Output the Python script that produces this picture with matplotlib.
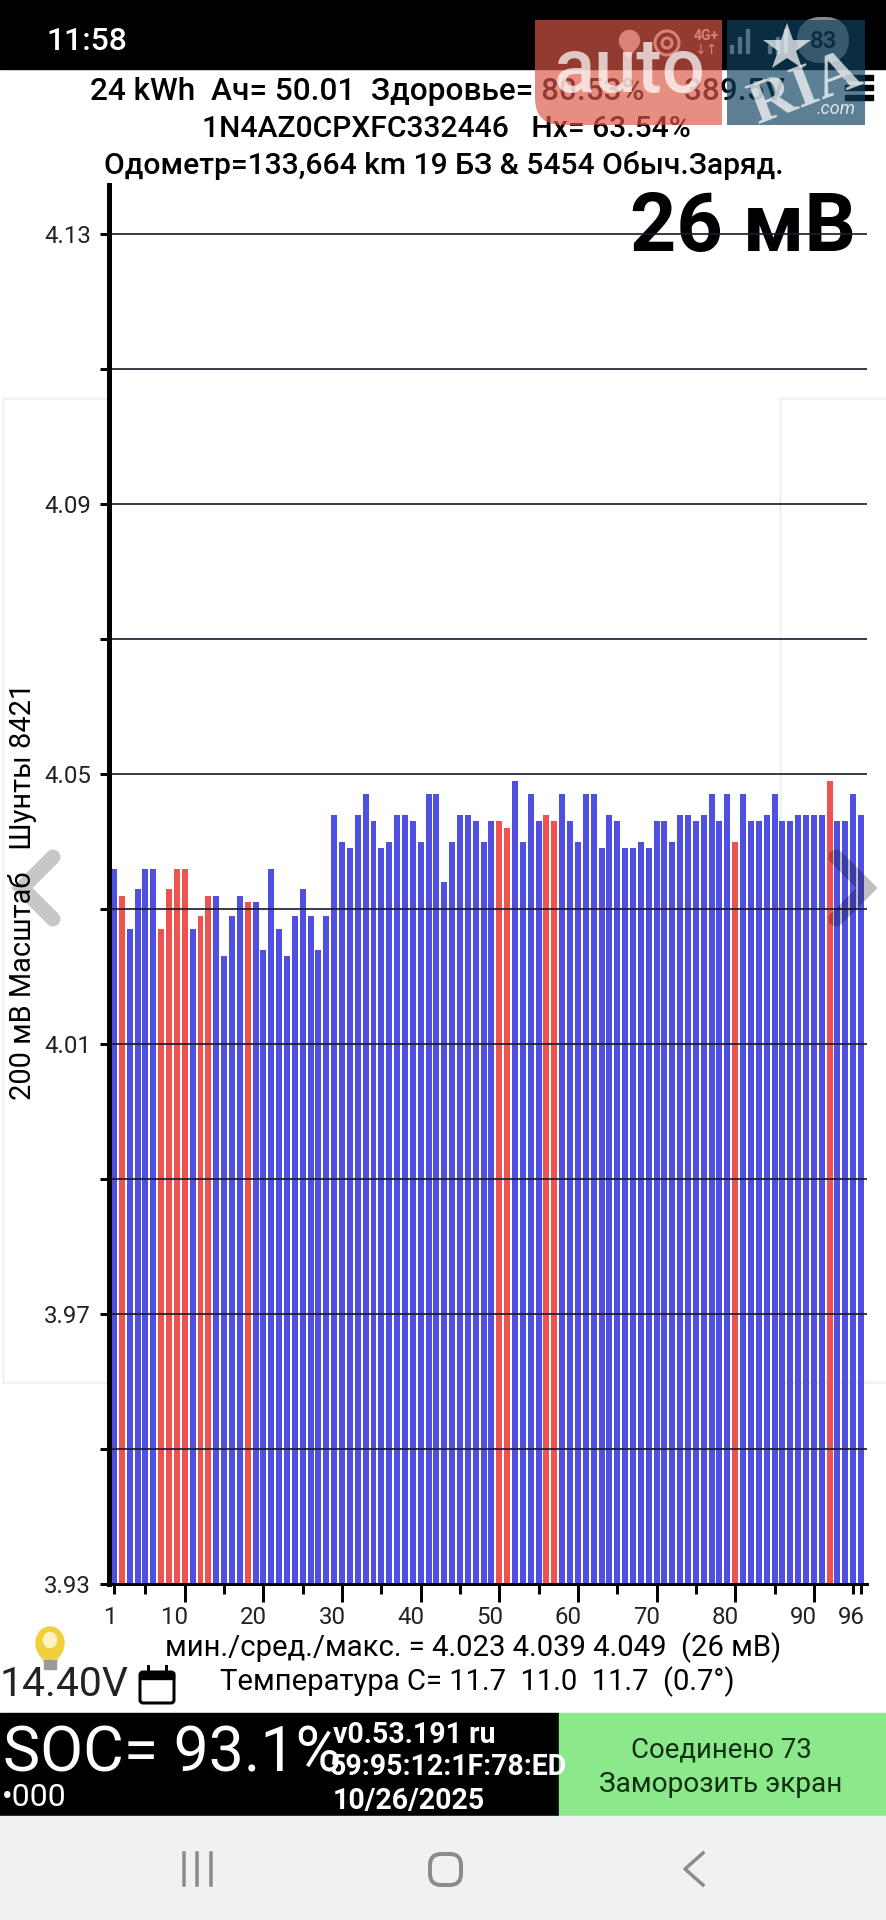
import matplotlib
matplotlib.use("Agg")
import matplotlib.pyplot as plt
from matplotlib.patches import Rectangle, FancyBboxPatch, Circle, Ellipse, Polygon
from matplotlib.path import Path
from matplotlib.patches import PathPatch

plt.rcParams["font.family"] = ["Roboto", "DejaVu Sans"]

# Cell voltages (cell 1 to 96)
CELL_VOLTS = [
    4.036, 4.032, 4.027, 4.033, 4.036, 4.036, 4.027, 4.033, 4.036, 4.036,
    4.027, 4.029, 4.032, 4.032, 4.023, 4.029, 4.032, 4.031, 4.031, 4.024,
    4.036, 4.027, 4.023, 4.029, 4.033, 4.029, 4.024, 4.029, 4.044, 4.040,
    4.039, 4.044, 4.047, 4.043, 4.039, 4.040, 4.044, 4.044, 4.043, 4.040,
    4.047, 4.047, 4.034, 4.040, 4.044, 4.044, 4.043, 4.040, 4.043, 4.043,
    4.042, 4.049, 4.040, 4.047, 4.043, 4.044, 4.043, 4.047, 4.043, 4.040,
    4.047, 4.047, 4.039, 4.044, 4.043, 4.039, 4.039, 4.040, 4.039, 4.043,
    4.043, 4.040, 4.044, 4.044, 4.043, 4.044, 4.047, 4.043, 4.047, 4.040,
    4.047, 4.043, 4.043, 4.044, 4.047, 4.043, 4.043, 4.044, 4.044, 4.044,
    4.044, 4.049, 4.043, 4.043, 4.047, 4.044,
]
SHUNT_CELLS = [2, 7, 8, 9, 10, 12, 13, 18, 50, 51, 56, 57, 80, 92]

GRID_LEVELS = [4.13, 4.11, 4.09, 4.07, 4.05, 4.03, 4.01, 3.99, 3.97, 3.95, 3.93]
Y_LABELS = [4.13, 4.09, 4.05, 4.01, 3.97, 3.93]
X_LONG_TICKS = [10, 20, 30, 40, 50, 60, 70, 80, 90]
X_SHORT_TICKS = [1, 5, 15, 25, 35, 45, 55, 65, 75, 85, 95, 96]
X_LABELS = [1, 10, 20, 30, 40, 50, 60, 70, 80, 90, 96]

W, H = 886, 1920
BLUE = "#4f50e2"
RED = "#ef5350"


def px(size):
    # font size / line width given in image pixels
    return size * 0.72


fig = plt.figure(figsize=(W / 100, H / 100), dpi=100, facecolor="white")


def layer(z):
    a = fig.add_axes([0, 0, 1, 1], zorder=z)
    a.set_xlim(0, W)
    a.set_ylim(H, 0)
    a.axis("off")
    return a


bg = layer(0)
top = layer(2)


def label(ax, x, y, s, size, color="black", weight="normal", ha="center", **kw):
    return ax.text(x, y, s, fontsize=px(size), color=color, fontweight=weight,
                   ha=ha, va="center", **kw)


# Faint ad frames behind the chart
for xs in ([107, 3, 3, 107], [886, 780, 780, 886]):
    bg.plot(xs, [398, 398, 1382, 1382], color="#f3f3f3", lw=px(3))

# Status bar and header
bg.add_patch(Rectangle((0, 0), W, 69, color="black"))
label(bg, 46, 42, "11:58", 32, color="white", ha="left", weight="medium")
label(bg, 90, 91, "24 kWh  Ач= 50.01  Здоровье= 80.53%     389.5V", 31.5, weight="medium", ha="left")
label(bg, 446, 129, "1N4AZ0CPXFC332446   Hx= 63.54%", 30, weight="medium")
label(bg, 444, 165, "Одометр=133,664 km 19 БЗ & 5454 Обыч.Заряд.", 30, weight="medium")
label(bg, 743, 229, "26 мВ", 81, weight="bold")
for y in (77, 87, 97):
    bg.add_patch(Rectangle((845, y - 2.5), 28, 5, color="black"))

# Status icons, seen through the watermark
bg.plot([629], [40], marker="o", ms=px(20), color="#d9d9d9")
bg.add_patch(Polygon([(620, 44), (638, 44), (629, 58)], color="#d9d9d9"))
for r in (5, 12):
    bg.add_patch(Circle((667, 43), r, fill=False, ec="#d9d9d9", lw=px(3)))
label(bg, 706, 36, "4G+", 14, color="#d9d9d9", weight="bold")
label(bg, 706, 50, "↓↑", 14, color="#d9d9d9", family=["DejaVu Sans"])
for x0 in (730, 768):
    for i, h in enumerate((8, 16, 24)):
        bg.add_patch(Rectangle((x0 + i * 8, 53 - h), 3.5, h, color="#d9d9d9"))
bg.add_patch(FancyBboxPatch((809, 29), 28, 22, boxstyle="round,pad=0,rounding_size=11",
                            mutation_aspect=1, fc="#8a8a8a", ec="#8a8a8a", lw=px(24)))
label(bg, 823, 41, "83", 24, color="black", weight="medium")

# Rotated y caption
label(bg, 23, 891, "200 мВ Масштаб   Шунты 8421", 29, rotation=90)

# Chart
ax = fig.add_axes([109 / W, 1 - 1584 / H, (867 - 109) / W, (1584 - 185) / H], zorder=1)
ax.patch.set_alpha(0)
cells = list(range(1, len(CELL_VOLTS) + 1))
colors = [RED if c in SHUNT_CELLS else BLUE for c in cells]
ax.bar(cells, CELL_VOLTS, width=0.76, color=colors, zorder=1)
ax.hlines(GRID_LEVELS, 0, 97, color="#1c1c2c", lw=px(2), alpha=0.85, zorder=2)
ax.set_xlim(0.364, 96.76)
ax.set_ylim(3.93, 4.1373)

for s in ("top", "right"):
    ax.spines[s].set_visible(False)
ax.spines["left"].set_linewidth(px(5))
ax.spines["bottom"].set_linewidth(px(3))

ax.set_yticks(GRID_LEVELS)
ax.set_yticklabels([f"{v:.2f}" if v in Y_LABELS else "" for v in GRID_LEVELS],
                   fontsize=px(24), color="#222222")
ax.tick_params(axis="y", length=px(9), width=px(3), pad=px(9))
ax.set_xticks(X_LONG_TICKS)
ax.set_xticklabels([])
ax.set_xticks(X_SHORT_TICKS, minor=True)
ax.tick_params(axis="x", which="major", length=px(18), width=px(3))
ax.tick_params(axis="x", which="minor", length=px(10), width=px(3))

for v in X_LABELS:
    shift = -3 if v == 1 else -10
    ax.annotate(str(v), xy=(v, 3.93), xytext=(shift, -34), xycoords="data",
                textcoords="offset pixels", ha="center", va="center",
                fontsize=px(24), color="#222222", annotation_clip=False)

# Readouts under the chart
label(bg, 473, 1648, "мин./сред./макс. = 4.023 4.039 4.049  (26 мВ)", 29.3)
label(bg, 477, 1682, "Температура C= 11.7  11.0  11.7  (0.7°)", 29.3)
label(bg, 0, 1685, "14.40V", 41, ha="left", color="#222222")

# Bulb
bg.add_patch(Polygon([(37, 1650), (63, 1650), (56, 1662), (44, 1662)], color="#f3dc6a"))
bg.add_patch(Ellipse((50, 1643), 28, 32, color="#f0d03c"))
bg.add_patch(Ellipse((50, 1640), 13, 15, color="#fbf3c0"))
bg.add_patch(Rectangle((44, 1660), 12, 9, color="#9a9a9a"))

# Calendar
bg.add_patch(FancyBboxPatch((140, 1672), 34, 31, boxstyle="round,pad=0,rounding_size=3",
                            fc="white", ec="black", lw=px(3)))
bg.add_patch(Rectangle((140, 1672), 34, 7, color="black"))
for x in (148, 166):
    bg.plot([x, x], [1666, 1676], color="black", lw=px(3))

# Bottom panel
bg.add_patch(Rectangle((0, 1713), 559, 103, color="black"))
bg.add_patch(Rectangle((559, 1713), W - 559, 103, color="#8be98b"))
bg.add_patch(Rectangle((0, 1816), W, 104, color="#f1f1f4"))
label(bg, 3, 1755, "SOC= 93.1%", 62.5, color="white", ha="left")
label(bg, 2, 1797, "•000", 32, color="white", ha="left")
label(bg, 333, 1735, "v0.53.191 ru", 28.5, color="white", ha="left", weight="bold")
label(bg, 330, 1767, "59:95:12:1F:78:ED", 28.5, color="white", ha="left", weight="bold")
label(bg, 333, 1801, "10/26/2025", 28.5, color="white", ha="left", weight="bold")
label(bg, 721, 1750, "Соединено 73", 27.5, color="#103010")
t = label(bg, 721, 1784, "Заморозить экран", 28, color="#103010")
t.set_clip_path(Rectangle((559, 1713), W - 559, 78, transform=bg.transData))

# Navigation bar
for x in (184, 197, 211):
    bg.plot([x, x], [1853, 1885], color="#8c8c8c", lw=px(3.5))
bg.add_patch(FancyBboxPatch((430, 1854), 31, 31, boxstyle="round,pad=0,rounding_size=11",
                            fc="none", ec="#8c8c8c", lw=px(4)))
bg.plot([703, 685, 703], [1853, 1869, 1885], color="#8c8c8c", lw=px(3.5))

# Gallery arrows on top of the chart
top.plot([53, 22, 53], [857, 888, 919], color="black", alpha=0.22, lw=px(15),
         solid_joinstyle="miter", solid_capstyle="round")
top.plot([836, 867, 836], [857, 888, 919], color="black", alpha=0.25, lw=px(15),
         solid_joinstyle="miter", solid_capstyle="round")

# auto.ria watermark
verts = [(535, 20), (722, 20), (722, 125), (562, 125), (535, 125), (535, 98), (535, 20)]
codes = [Path.MOVETO, Path.LINETO, Path.LINETO, Path.LINETO, Path.CURVE3, Path.CURVE3, Path.LINETO]
top.add_patch(PathPatch(Path(verts, codes), fc="#dc5849", ec="none", alpha=0.68))
top.add_patch(Rectangle((727, 20), 138, 105, fc="#0f4260", ec="none", alpha=0.68))
top.text(630, 92, "auto", fontsize=px(76), color="white", alpha=0.72, fontweight="medium",
         ha="center", va="baseline")
top.text(806, 90, "RIA", fontsize=px(62), color="white", alpha=0.72, fontweight="bold",
         family=["Liberation Serif"], rotation=21, ha="center", va="center")
top.plot([787], [48], marker="*", ms=px(50), color="white", alpha=0.72, mew=0)
top.text(856, 109, ".com", fontsize=px(18), color="white", alpha=0.8, style="italic",
         ha="right", va="center")

fig.savefig("out.png", dpi=100)
